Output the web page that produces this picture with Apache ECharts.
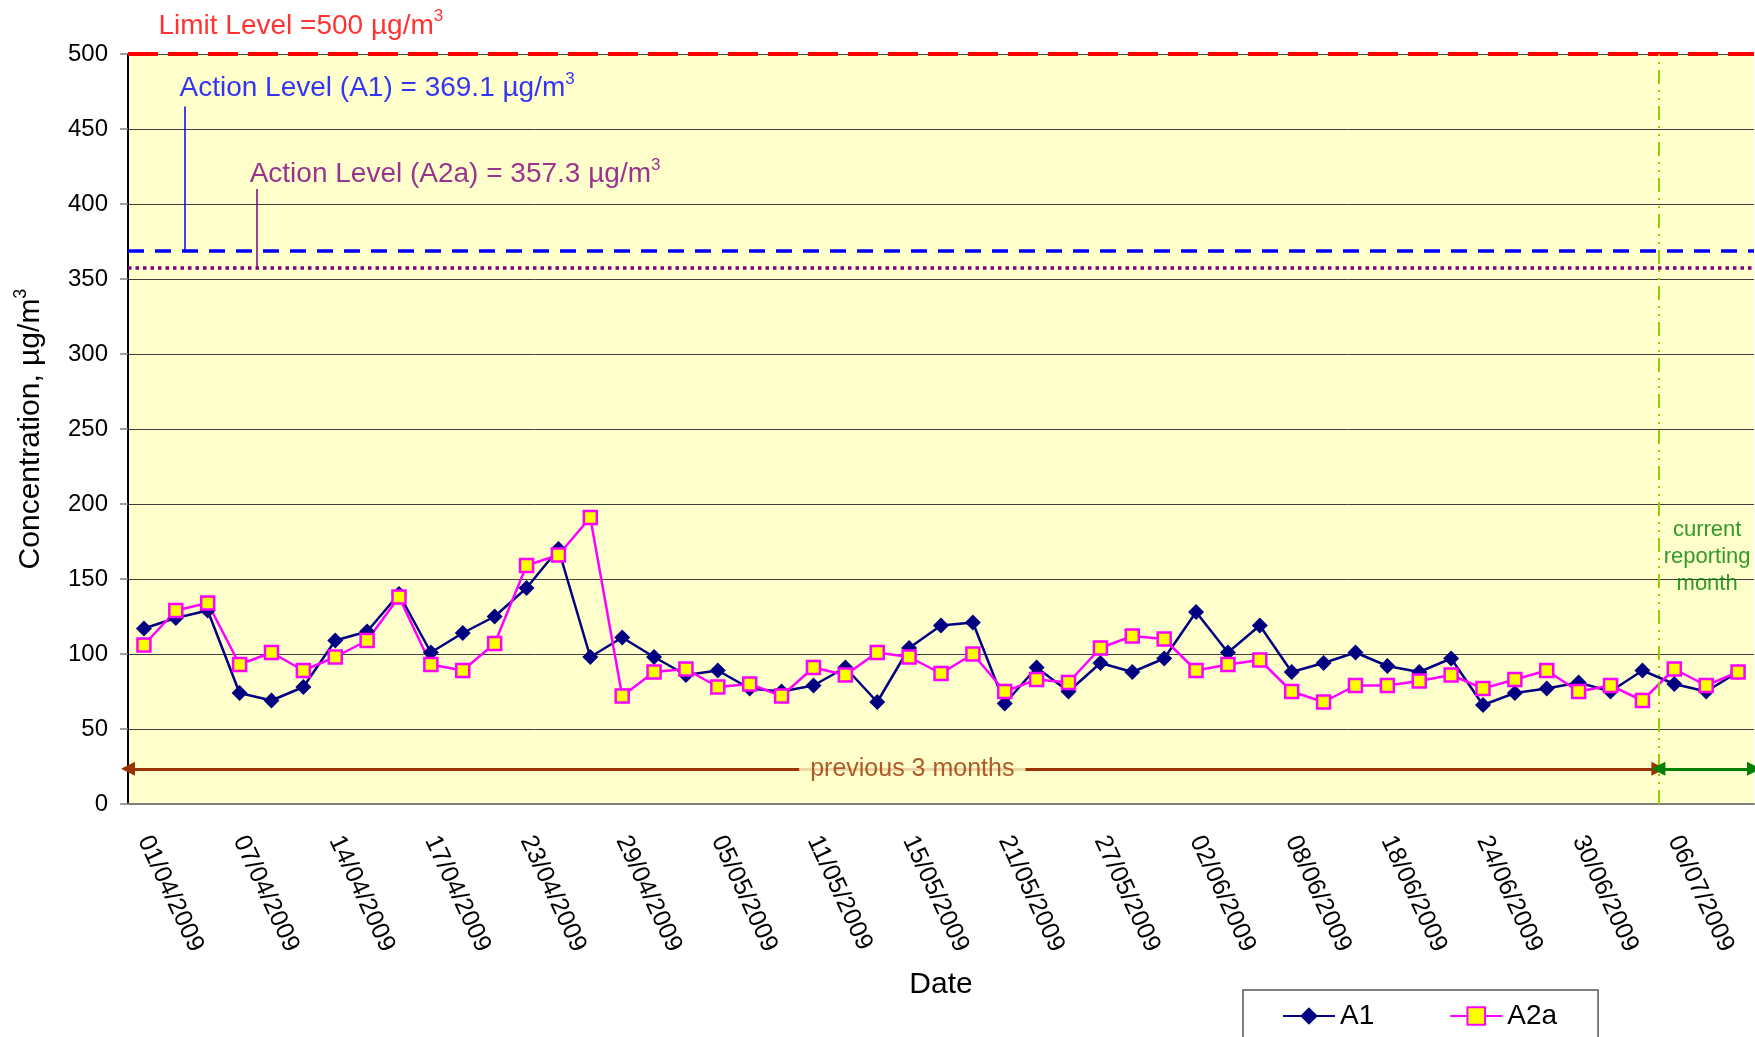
<!DOCTYPE html>
<html><head><meta charset="utf-8">
<script src="https://cdn.jsdelivr.net/npm/echarts@6/dist/echarts.min.js"></script>
<style>html,body{margin:0;padding:0;background:#fff}#c{width:1755px;height:1037px}</style>
</head><body><div id="c"></div>
<script>
// ---- data ----
const dates = [
 '01/04/2009','03/04/2009','05/04/2009','07/04/2009','09/04/2009','11/04/2009','14/04/2009','15/04/2009','16/04/2009',
 '17/04/2009','19/04/2009','21/04/2009','23/04/2009','25/04/2009','27/04/2009','29/04/2009','01/05/2009','03/05/2009',
 '05/05/2009','07/05/2009','09/05/2009','11/05/2009','12/05/2009','13/05/2009','15/05/2009','17/05/2009','19/05/2009',
 '21/05/2009','23/05/2009','25/05/2009','27/05/2009','29/05/2009','31/05/2009','02/06/2009','04/06/2009','06/06/2009',
 '08/06/2009','10/06/2009','14/06/2009','18/06/2009','20/06/2009','22/06/2009','24/06/2009','26/06/2009','28/06/2009',
 '30/06/2009','30/06/2009','30/06/2009','06/07/2009','08/07/2009','10/07/2009'
];
const a1 = [117,124,129,74,69,78,109,115,140,101,114,125,144,170,
            98,111,98,86,89,77,75,79,91,68,104,119,121,
            67,91,75,94,88,97,128,101,119,88,94,101,92,88,
            97,66,74,77,81,75,89,80,75,88];
const a2a = [106,129,134,93,101,89,98,109,138,93,89,107,159,166,
             191,72,88,90,78,80,72,91,86,101,98,87,100,
             75,83,81,104,112,110,89,93,96,75,68,79,79,82,
             86,77,83,89,75,79,69,90,79,88];
const limitLevel = 500;
const actionA1 = 369.1;
const actionA2a = 357.3;
const reportStartIndex = 48;   // first category of the current reporting month
const periodArrowLevel = 23.5;
const yTicks = {min: 0, max: 500, interval: 50};

// ---- chart ----
const FONT = '"Liberation Sans", Arial, Helvetica, sans-serif';
const chart = echarts.init(document.getElementById('c'));
const nCat = dates.length;
function supRich(color, size, supSize) {
  return {
    a: {color: color, fontSize: size, fontFamily: FONT, lineHeight: size + 8},
    s: {color: color, fontSize: supSize, fontFamily: FONT, verticalAlign: 'top', lineHeight: supSize}
  };
}
function note(x, y, formatter, labelOpt) {
  return {value: [x, y], label: Object.assign({show: true, formatter: formatter}, labelOpt)};
}

chart.setOption({
  animation: false,
  textStyle: {fontFamily: FONT},
  grid: {left: 128, right: 1, top: 54, bottom: 233, show: true, backgroundColor: '#FFFFCC', borderWidth: 0,
         containLabel: false, outerBoundsMode: 'none'},
  legend: {
    left: 1243, top: 990, orient: 'horizontal',
    itemWidth: 52, itemHeight: 22, itemGap: 75,
    padding: [12, 41, 40, 39],
    borderColor: '#555', borderWidth: 1.5, backgroundColor: '#fff',
    textStyle: {fontSize: 28, color: '#000', fontFamily: FONT},
    data: ['A1', 'A2a']
  },
  xAxis: [{
    type: 'category', data: dates, boundaryGap: true,
    axisLine: {lineStyle: {color: '#808080', width: 2}},
    axisTick: {interval: 2, length: 8, lineStyle: {color: '#808080', width: 1.5}},
    axisLabel: {interval: 2, rotate: -65, fontSize: 25, color: '#000', margin: 33, fontFamily: FONT},
    splitLine: {show: false},
    name: 'Date', nameLocation: 'middle', nameGap: 166,
    nameTextStyle: {fontSize: 30, color: '#000', fontFamily: FONT}
  }, {
    type: 'value', min: 0, max: nCat, show: false
  }],
  yAxis: {
    type: 'value', min: yTicks.min, max: yTicks.max, interval: yTicks.interval,
    axisLine: {show: true, lineStyle: {color: '#000', width: 2}},
    axisTick: {show: true, length: 8, lineStyle: {color: '#808080', width: 1.5}},
    axisLabel: {fontSize: 24, color: '#000', margin: 20, fontFamily: FONT},
    splitLine: {lineStyle: {color: '#404040', width: 1}},
    name: '{a|Concentration, µg/m}{s|3}', nameLocation: 'middle', nameGap: 78, nameRotate: 90,
    nameTextStyle: {rich: supRich('#000', 30, 18)}
  },
  series: [{
    type: 'line', name: 'refs', xAxisIndex: 1, data: [], silent: true, z: 3,
    markLine: {
      silent: true, symbol: 'none', animation: false,
      label: {show: false},
      emphasis: {disabled: true},
      data: [
        {yAxis: limitLevel, lineStyle: {color: '#FF0000', width: 4, type: [30, 10]}},
        {yAxis: actionA1, lineStyle: {color: '#0000FF', width: 3.5, type: [16, 11]}},
        {yAxis: actionA2a, lineStyle: {color: '#800080', width: 3.5, type: [3.5, 4]}},
        {xAxis: reportStartIndex, lineStyle: {color: '#99CC00', width: 2, type: [14, 6, 2, 6, 2, 6]}},
        [{coord: [1.79, actionA1], lineStyle: {color: '#0000FF', width: 1.5, type: 'solid'}}, {coord: [1.79, 465]}],
        [{coord: [4.05, actionA2a], lineStyle: {color: '#800080', width: 1.5, type: 'solid'}}, {coord: [4.05, 410]}]
      ]
    }
  }, {
    type: 'line', name: 'arrows', xAxisIndex: 1, data: [], silent: true, z: 3,
    markLine: {
      silent: true, symbol: ['triangle', 'triangle'], symbolSize: 14, animation: false,
      label: {show: false},
      emphasis: {disabled: true},
      data: [
        [{coord: [0, periodArrowLevel], lineStyle: {color: '#993300', width: 3, type: 'solid'}, itemStyle: {color: '#993300'}},
         {coord: [reportStartIndex, periodArrowLevel]}],
        [{coord: [reportStartIndex, periodArrowLevel], lineStyle: {color: '#008000', width: 3, type: 'solid'}, itemStyle: {color: '#008000'}},
         {coord: [nCat, periodArrowLevel]}]
      ]
    }
  }, {
    type: 'line', name: 'A1', data: a1, z: 4,
    symbol: 'diamond', symbolSize: 16,
    lineStyle: {color: '#000080', width: 2.5},
    itemStyle: {color: '#000080'}
  }, {
    type: 'line', name: 'A2a', data: a2a, z: 4,
    symbol: 'rect', symbolSize: 13,
    lineStyle: {color: '#FF00FF', width: 2.5},
    itemStyle: {color: '#FFFF00', borderColor: '#FF00FF', borderWidth: 2.5}
  }, {
    type: 'scatter', name: 'notes', xAxisIndex: 1, silent: true, clip: false, z: 6,
    symbolSize: 1, itemStyle: {color: 'rgba(0,0,0,0)'},
    data: [
      note(0.94, 518.5, '{a|Limit Level =' + limitLevel + ' µg/m}{s|3}', {position: 'right', distance: 0, rich: supRich('#FF0000', 28, 17)}),
      note(1.6, 477, '{a|Action Level (A1) = ' + actionA1 + ' µg/m}{s|3}', {position: 'right', distance: 0, rich: supRich('#0000FF', 28, 17)}),
      note(3.8, 419.5, '{a|Action Level (A2a) = ' + actionA2a + ' µg/m}{s|3}', {position: 'right', distance: 0, rich: supRich('#800080', 28, 17)}),
      note(24.6, periodArrowLevel, 'previous 3 months', {position: 'inside', color: '#993300', fontSize: 25, fontFamily: FONT, backgroundColor: '#FFFFCC', padding: [2, 11]}),
      note(49.53, 165, 'current\nreporting\nmonth', {position: 'inside', align: 'center', color: '#008000', fontSize: 22, lineHeight: 27, fontFamily: FONT})
    ]
  }]
});
</script>
</body></html>
